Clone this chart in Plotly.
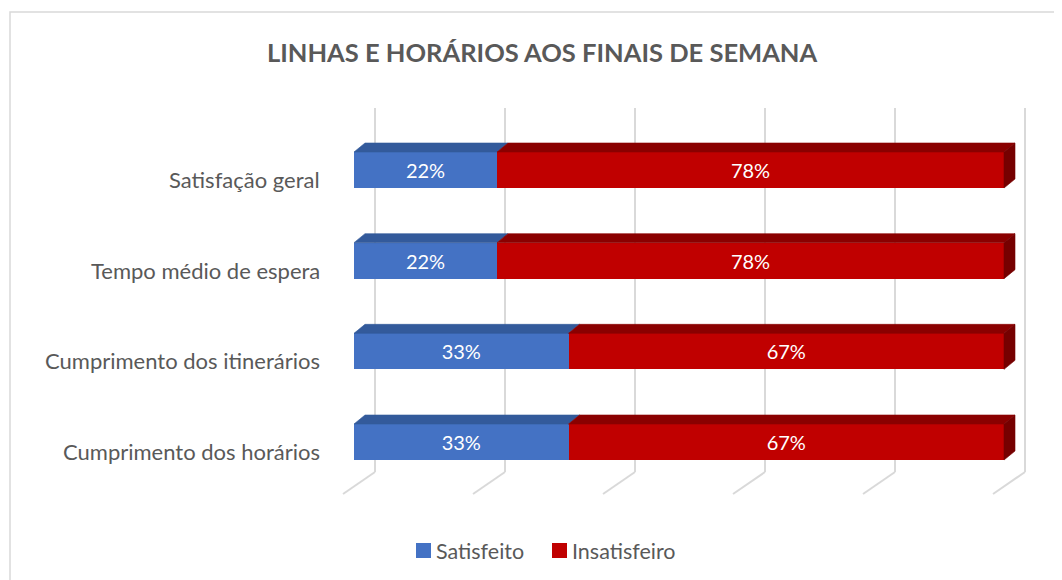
import plotly.graph_objects as go

# ---------------- data ----------------
categories = ["Satisfação geral", "Tempo médio de espera",
              "Cumprimento dos itinerários", "Cumprimento dos horários"]
satisfeito = [22, 22, 33, 33]
insatisfeito = [78, 78, 67, 67]
series_names = ["Satisfeito", "Insatisfeiro"]
grid_ticks = [0, 20, 40, 60, 80, 100]
title_text = "LINHAS E HORÁRIOS AOS FINAIS DE SEMANA"

# ---------------- styling / geometry ----------------
# page body has an 8px margin, so the figure is drawn 8px smaller and all
# pixel targets are shifted by -8
OFF = 8
W, H = 1062 - OFF, 580 - OFF
X_PX0, SX = 354.0 - OFF, 6.5        # pixel of 0 %, pixels per percent
Y_PX0, SY = 170.0 - OFF, 90.67      # pixel of first category centre, px per category
BAR_W = 36 / SY
DX, DY = 11 / SX, -9 / SY           # depth offset of bar top / side faces
GX = 21 / SX                        # back wall offset
FX = -11 / SX                       # floor front offset
G_TOP = (108 - OFF - Y_PX0) / SY
G_BOT = (472 - OFF - Y_PX0) / SY
G_FRONT = (494 - OFF - Y_PX0) / SY

BLUE, BLUE_TOP = "#4472C4", "#335A9B"
RED, RED_TOP, RED_SIDE = "#C00000", "#8A0000", "#760000"
GRID = "#D9D9D9"
TXT = "#595959"
FONT = "Lato"
colors = [BLUE, RED]

ypos = list(range(len(categories)))

fig = go.Figure()

# front faces
for vals, name, col in zip([satisfeito, insatisfeito], series_names, colors):
    fig.add_trace(go.Bar(y=ypos, x=vals, orientation="h", name=name,
                         width=BAR_W, marker=dict(color=col, line=dict(width=0)),
                         text=[f"{v}%" for v in vals], textposition="inside",
                         insidetextanchor="middle",
                         textfont=dict(color="white", size=20, family=FONT),
                         hoverinfo="skip", showlegend=False))


def poly(xs, ys, color):
    fig.add_trace(go.Scatter(x=xs + [xs[0]], y=ys + [ys[0]], mode="lines",
                             fill="toself", fillcolor=color,
                             line=dict(color=color, width=0.6),
                             showlegend=False, hoverinfo="skip"))


# top and side faces
for i, (s, n) in enumerate(zip(satisfeito, insatisfeito)):
    top = i - BAR_W / 2
    bot = i + BAR_W / 2
    x0, x1, x2 = 0, s, s + n
    poly([x0, x1, x1 + DX, x0 + DX], [top, top, top + DY, top + DY], BLUE_TOP)
    poly([x1, x2, x2 + DX, x1 + DX], [top, top, top + DY, top + DY], RED_TOP)
    poly([x2, x2 + DX, x2 + DX, x2], [top, top + DY, bot + DY, bot], RED_SIDE)

shapes = []
# gridlines: back wall verticals + floor diagonals
for t in grid_ticks:
    shapes.append(dict(type="line", xref="x", yref="y", layer="below",
                       x0=t + GX, x1=t + GX, y0=G_TOP, y1=G_BOT,
                       line=dict(color=GRID, width=2)))
    shapes.append(dict(type="line", xref="x", yref="y", layer="below",
                       x0=t + GX, x1=t + FX, y0=G_BOT, y1=G_FRONT,
                       line=dict(color=GRID, width=2)))
# chart border
shapes.append(dict(type="rect", xref="paper", yref="paper", layer="below",
                   x0=(10 - OFF) / W, x1=1.05, y0=-0.05, y1=1 - (12 - OFF) / H,
                   line=dict(color=GRID, width=1.5)))

annotations = []
for i, c in enumerate(categories):
    annotations.append(dict(x=-5, y=i + 0.105, xref="x", yref="y", text=c,
                            showarrow=False, xanchor="right", yanchor="middle",
                            font=dict(size=22, color=TXT, family=FONT)))
annotations.append(dict(x=(542 - OFF) / W, y=1 - (52 - OFF) / H, xref="paper",
                        yref="paper", text=f"<b>{title_text}</b>", showarrow=False,
                        xanchor="center", yanchor="middle",
                        font=dict(size=25.5, color=TXT, family=FONT)))

# custom legend (square + label)
leg_sq_x = [416 - OFF, 552 - OFF]
leg_y = 550.5 - OFF
for name, col, sx in zip(series_names, colors, leg_sq_x):
    shapes.append(dict(type="rect", xref="paper", yref="paper",
                       x0=sx / W, x1=(sx + 15) / W,
                       y0=1 - (leg_y + 7.5) / H, y1=1 - (leg_y - 7.5) / H,
                       fillcolor=col, line=dict(width=0)))
    annotations.append(dict(x=(sx + 18) / W, y=1 - leg_y / H, xref="paper",
                            yref="paper", text=name, showarrow=False,
                            xanchor="left", yanchor="middle",
                            font=dict(size=21.5, color=TXT, family=FONT)))

fig.update_layout(
    width=W, height=H, barmode="stack",
    margin=dict(l=0, r=0, t=0, b=0),
    paper_bgcolor="white", plot_bgcolor="white",
    xaxis=dict(range=[(0 - X_PX0) / SX, (W - X_PX0) / SX], visible=False,
               fixedrange=True),
    yaxis=dict(range=[(H - Y_PX0) / SY, (0 - Y_PX0) / SY], visible=False,
               fixedrange=True),
    shapes=shapes, annotations=annotations,
    showlegend=False,
)

fig.write_html("out.html")
